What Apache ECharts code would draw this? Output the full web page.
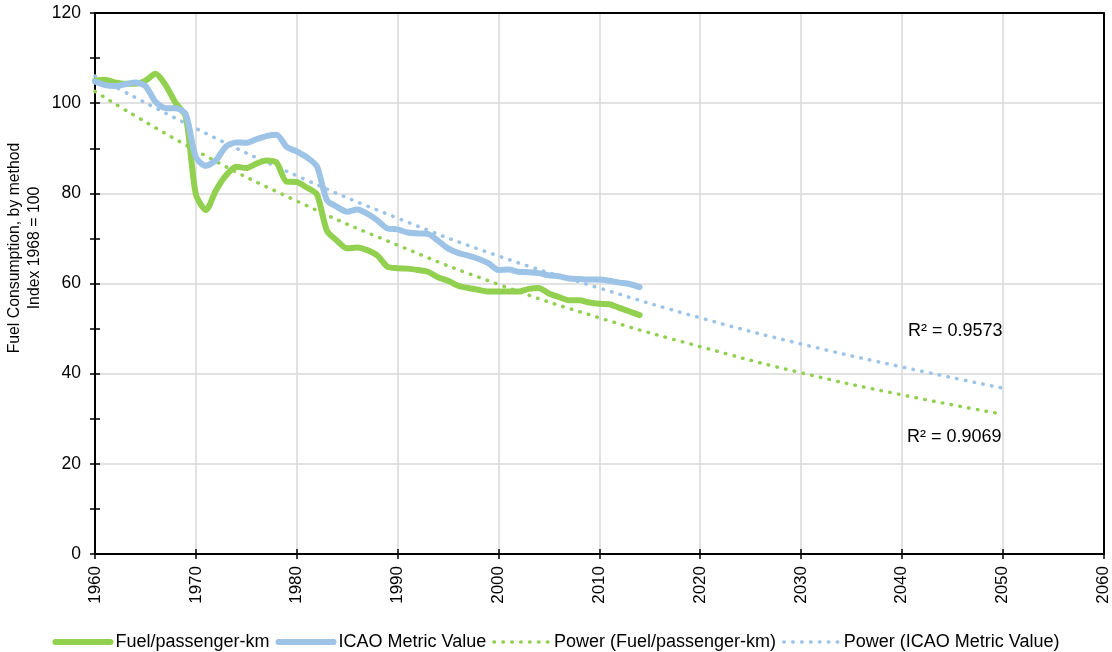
<!DOCTYPE html>
<html lang="en">

<head>
    <meta charset="UTF-8" />
    <title>Fuel Consumption index</title>
    <script src="https://cdn.jsdelivr.net/npm/echarts@6/dist/echarts.min.js"></script>
    <style>
        html,
        body {
            margin: 0;
            padding: 0;
            background: #fff;
        }

        #chart {
            width: 1112px;
            height: 652px;
        }
    </style>
</head>

<body>
    <div id="chart"></div>
</body>
<script type="text/javascript">
    // years 1960 - 2014
    var years = [];
    for (var y = 1960; y <= 2014; y++) years.push(y);

    var fuelPerPkm = [
        105.0, 105.2, 104.6, 104.3, 104.3, 105.0, 106.5, 104.0, 100.0, 97.0,
        79.8, 76.3, 80.7, 84.0, 85.9, 85.6, 86.6, 87.3, 86.8, 82.6,
        82.5, 81.3, 79.8, 71.7, 69.5, 67.8, 68.0, 67.4, 66.2, 63.7,
        63.4, 63.3, 63.0, 62.6, 61.4, 60.6, 59.5, 59.0, 58.6, 58.2,
        58.2, 58.2, 58.2, 58.8, 59.0, 57.8, 57.0, 56.3, 56.3, 55.8,
        55.5, 55.4, 54.6, 53.8, 53.0
    ];

    var icaoMetric = [
        104.8, 104.0, 103.8, 104.2, 104.6, 103.8, 100.3, 98.9, 98.9, 97.5,
        88.0, 86.1, 87.4, 90.4, 91.3, 91.2, 92.0, 92.7, 93.0, 90.3,
        89.3, 88.0, 86.0, 78.5, 77.0, 75.9, 76.4, 75.5, 74.0, 72.2,
        72.0, 71.3, 71.1, 71.0, 69.5, 67.8, 66.8, 66.2, 65.5, 64.5,
        63.0, 63.1, 62.6, 62.5, 62.3, 61.8, 61.6, 61.1, 61.0, 60.9,
        60.9, 60.6, 60.2, 59.9, 59.2
    ];

    // trend lines every 10 years
    var trendYears = [1960, 1970, 1980, 1990, 2000, 2010, 2020, 2030, 2040, 2050];
    var trendFuel = [102.6, 89.5, 78.3, 68.5, 59.8, 52.4, 46.0, 40.2, 35.3, 31.0];
    var trendIcao = [106.0, 94.4, 83.9, 74.5, 66.1, 59.0, 52.4, 46.6, 41.5, 36.8];

    var seriesNames = ['Fuel/passenger-km', 'ICAO Metric Value', 'Power (Fuel/passenger-km)', 'Power (ICAO Metric Value)'];
    var rSquared = ['R² = 0.9573', 'R² = 0.9069'];

    var GREEN = '#92D050';
    var BLUE = '#9DC3E6';
    var FONT = 'Liberation Sans, Arial, sans-serif';
    var DOTS = [0.5, 8.4];

    function pairs(xs, vs) {
        return xs.map(function (x, i) { return [x, vs[i]]; });
    }

    var myChart = echarts.init(document.getElementById('chart'));

    var xBase = {
        type: 'value',
        min: 1960,
        max: 2060,
        interval: 10,
        position: 'bottom'
    };
    var yBase = {
        type: 'value',
        min: 0,
        max: 120,
        interval: 20,
        position: 'left'
    };
    var tickLine = { color: '#000', width: 1.5 };
    // top and right frame of the plot
    var frame = {
        z: 5,
        axisLine: { show: true, onZero: false, lineStyle: { color: '#000', width: 2 } },
        axisTick: { show: false },
        axisLabel: { show: false },
        splitLine: { show: false }
    };

    var option = {
        animation: false,
        textStyle: { fontFamily: FONT },
        grid: {
            left: 95,
            right: 6,
            top: 13,
            bottom: 98
        },
        xAxis: [
            Object.assign({}, xBase, {
                axisLine: { onZero: false, lineStyle: { color: '#000', width: 2 } },
                axisTick: { show: true, length: 5, lineStyle: tickLine },
                axisLabel: {
                    rotate: 90, margin: 12, color: '#000', fontSize: 17, fontFamily: FONT,
                    formatter: function (v) { return String(v); }
                },
                splitLine: { show: true, showMaxLine: false, lineStyle: { color: '#d9d9d9', width: 1.5 } }
            }),
            Object.assign({}, xBase, {
                axisLine: { show: false, onZero: false },
                axisTick: { show: true, inside: true, length: 5, lineStyle: tickLine },
                axisLabel: { show: false },
                splitLine: { show: false }
            }),
            Object.assign({}, xBase, frame, { position: 'top' })
        ],
        yAxis: [
            Object.assign({}, yBase, {
                axisLine: { show: true, onZero: false, lineStyle: { color: '#000', width: 2 } },
                axisTick: { show: true, length: 5, lineStyle: tickLine },
                minorTick: { show: true, splitNumber: 2, length: 5, lineStyle: tickLine },
                axisLabel: { margin: 14, color: '#000', fontSize: 17.5, fontFamily: FONT },
                splitLine: { show: true, showMaxLine: false, lineStyle: { color: '#d9d9d9', width: 1.5 } }
            }),
            Object.assign({}, yBase, {
                axisLine: { show: false, onZero: false },
                axisTick: { show: true, inside: true, length: 5, lineStyle: tickLine },
                minorTick: { show: true, splitNumber: 2, length: 5, lineStyle: tickLine },
                axisLabel: { show: false },
                splitLine: { show: false }
            }),
            Object.assign({}, yBase, frame, { position: 'right' })
        ],
        legend: {
            bottom: 1,
            padding: 0,
            left: 'center',
            itemWidth: 55,
            itemHeight: 18,
            itemGap: 6,
            itemStyle: { opacity: 0 },
            textStyle: { color: '#000', fontSize: 18, fontFamily: FONT },
            data: [
                { name: seriesNames[0], lineStyle: { width: 6, cap: 'round' } },
                { name: seriesNames[1], lineStyle: { width: 6, cap: 'round' } },
                { name: seriesNames[2], lineStyle: { width: 3.5, type: DOTS, cap: 'round' } },
                { name: seriesNames[3], lineStyle: { width: 3.5, type: DOTS, cap: 'round' } }
            ]
        },
        graphic: [
            {
                type: 'text',
                x: 25,
                y: 248,
                rotation: Math.PI / 2,
                style: {
                    text: 'Fuel Consumption, by method\nIndex 1968 = 100',
                    fill: '#000',
                    font: '15.8px ' + FONT,
                    lineHeight: 20,
                    align: 'center',
                    verticalAlign: 'middle'
                }
            },
            {
                type: 'text',
                x: 908,
                y: 331,
                style: { text: rSquared[0], fill: '#000', font: '18px ' + FONT, verticalAlign: 'middle' }
            },
            {
                type: 'text',
                x: 907,
                y: 437,
                style: { text: rSquared[1], fill: '#000', font: '18px ' + FONT, verticalAlign: 'middle' }
            }
        ],
        series: [
            {
                name: seriesNames[0],
                type: 'line',
                data: pairs(years, fuelPerPkm),
                smooth: 0.25,
                symbol: 'none',
                color: GREEN,
                lineStyle: { color: GREEN, width: 6, cap: 'round', join: 'round' },
                z: 3
            },
            {
                name: seriesNames[1],
                type: 'line',
                data: pairs(years, icaoMetric),
                smooth: 0.25,
                symbol: 'none',
                color: BLUE,
                lineStyle: { color: BLUE, width: 6, cap: 'round', join: 'round' },
                z: 4
            },
            {
                name: seriesNames[2],
                type: 'line',
                data: pairs(trendYears, trendFuel),
                smooth: true,
                symbol: 'none',
                color: GREEN,
                lineStyle: { color: GREEN, width: 3.5, type: DOTS, cap: 'round' },
                z: 2
            },
            {
                name: seriesNames[3],
                type: 'line',
                data: pairs(trendYears, trendIcao),
                smooth: true,
                symbol: 'none',
                color: BLUE,
                lineStyle: { color: BLUE, width: 3.5, type: DOTS, cap: 'round' },
                z: 2
            }
        ]
    };

    myChart.setOption(option);
    window.onresize = function () {
        myChart.resize();
    };
</script>

</html>
